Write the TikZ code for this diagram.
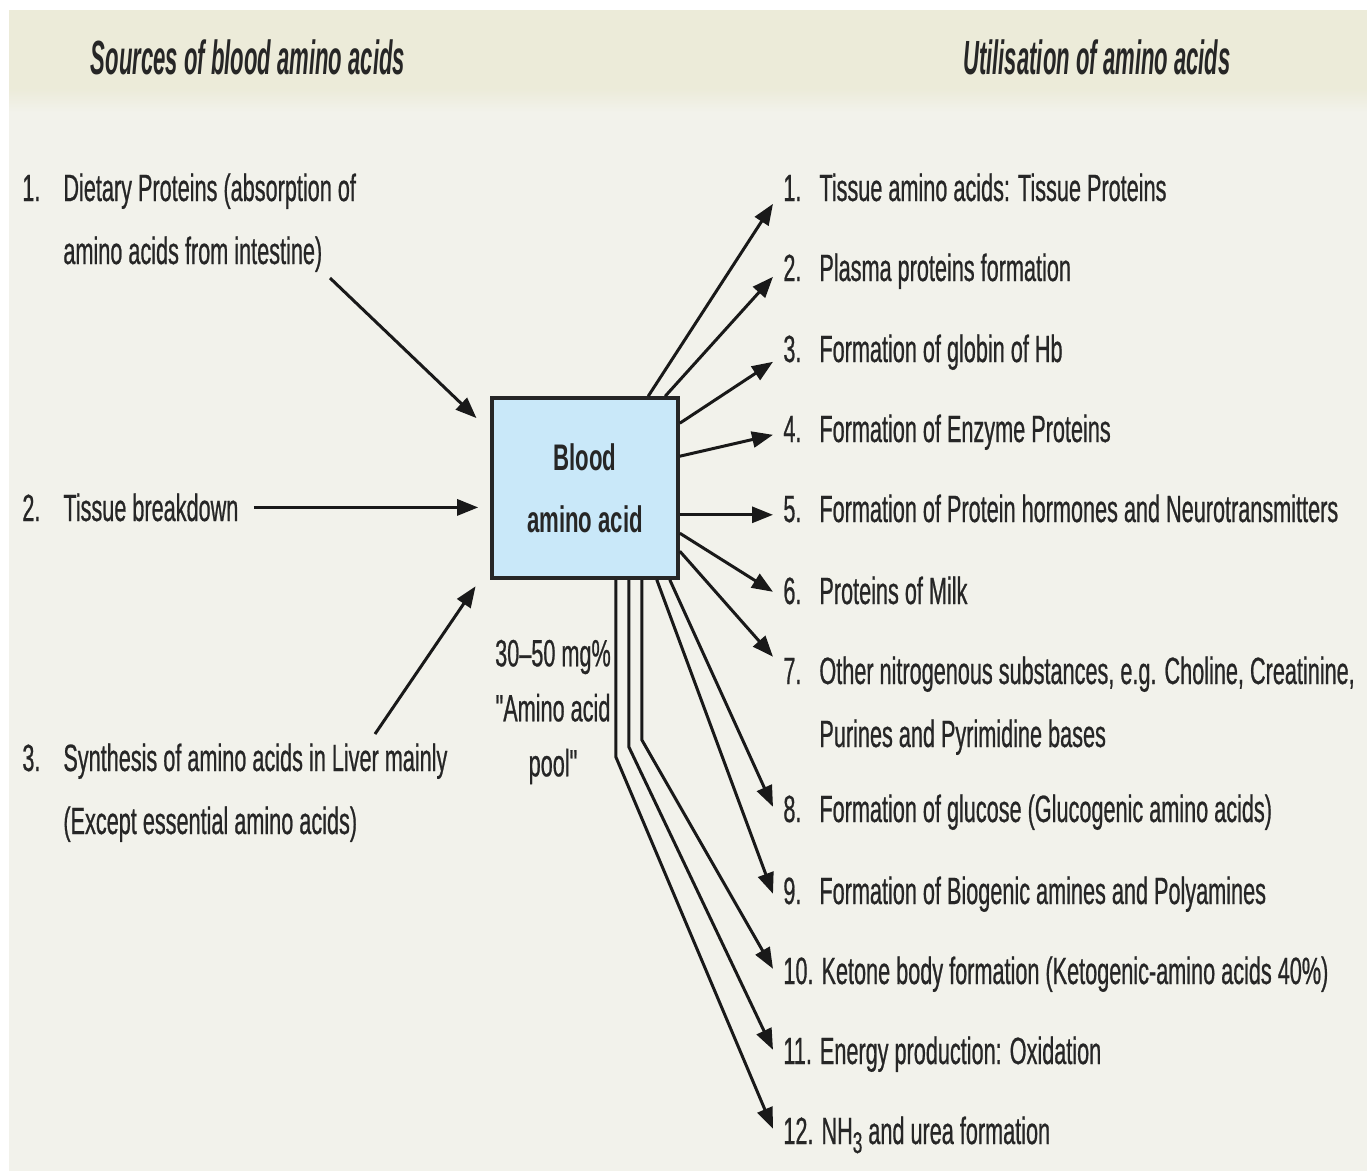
\documentclass[tikz,border=0pt]{standalone}
\usepackage{fontspec}
\setmainfont[FakeStretch=0.57,FakeBold=0.6]{Liberation Sans}
\newfontfamily\headfont[FakeStretch=0.46]{Liberation Sans}
\newfontfamily\boxfont[FakeStretch=0.6]{Liberation Sans}
\usetikzlibrary{arrows.meta,positioning,calc}
\definecolor{PageBg}{RGB}{242,242,235}
\definecolor{HeadBand}{RGB}{236,235,217}
\definecolor{PoolBlue}{RGB}{201,232,249}
\definecolor{InkGrey}{RGB}{38,38,38}

\begin{document}
\begin{tikzpicture}[x=0.5pt,y=-0.5pt,>={Triangle[length=10.5pt,width=8pt]},every node/.style={text=InkGrey,font=\fontsize{19}{31.5}\selectfont}]
\tikzset{item/.style={anchor=base west,inner sep=0pt,align=left},num/.style={anchor=base west,inner xsep=5pt,inner ysep=0pt,text height=0.72em,text depth=0pt},arr/.style={->,line width=1.5pt,draw=black!90},headtext/.style={font=\headfont\fontsize{24}{28}\selectfont\bfseries\itshape}}
% page and heading band
\useasboundingbox (0,0) rectangle (1367,1175);
\fill[white] (0,0) rectangle (1367,1175);
\fill[PageBg] (9,10) rectangle (1367,1171);
\fill[HeadBand] (9,10) rectangle (1367,88);
\shade[top color=HeadBand,bottom color=PageBg] (9,88) rectangle (1367,112);
\node[headtext] (srchead) at (248,57) {Sources of blood amino acids};
\node[headtext] (usehead) at (1097,57) {Utilisation of amino acids};
% central pool
\node[draw=black!85,line width=1.8pt,fill=PoolBlue,minimum width=93pt,minimum height=90pt,align=center,font=\boxfont\fontsize{18.5}{31}\selectfont\bfseries] (pool) at (585,488) {Blood\\amino acid};
\node[align=center,font=\fontsize{19}{27.5}\selectfont\addfontfeatures{Ligatures=TeXOff}] (poolnote) at (553,712) {30–50 mg\%\\"Amino acid\\pool"};
% sources (multi-line nodes sit on their last baseline)
\node[item] (n1) at (22,201) {1.};
\node[item] (l1) at (63,264) {Dietary Proteins (absorption of\\amino acids from intestine)};
\node[item] (n2) at (22,521) {2.};
\node[item,inner xsep=7.5pt] (l2) at (48,521) {Tissue breakdown};
\node[item] (n3) at (22,771) {3.};
\node[item] (l3) at (63,834) {Synthesis of amino acids in Liver mainly\\(Except essential amino acids)};
\coordinate (s1) at (330,278);
\coordinate (s3) at (375,734);
% utilisation
\node[num] (r1) at (773,201) {1.};
\node[item] (t1) at (819,201) {Tissue amino acids: Tissue Proteins};
\node[num] (r2) at (773,281) {2.};
\node[item] (t2) at (819,281) {Plasma proteins formation};
\node[num] (r3) at (773,362) {3.};
\node[item] (t3) at (819,362) {Formation of globin of Hb};
\node[num] (r4) at (773,442) {4.};
\node[item] (t4) at (819,442) {Formation of Enzyme Proteins};
\node[num] (r5) at (773,522) {5.};
\node[item] (t5) at (819,522) {Formation of Protein hormones and Neurotransmitters};
\node[num] (r6) at (773,604) {6.};
\node[item] (t6) at (819,604) {Proteins of Milk};
\node[num] (r7) at (773,684) {7.};
\node[item] (t7) at (819,747) {Other nitrogenous substances, e.g. Choline, Creatinine,\\Purines and Pyrimidine bases};
\node[num] (r8) at (773,822) {8.};
\node[item] (t8) at (819,822) {Formation of glucose (Glucogenic amino acids)};
\node[num] (r9) at (773,904) {9.};
\node[item] (t9) at (819,904) {Formation of Biogenic amines and Polyamines};
\node[num] (r10) at (773,984) {10. Ketone body formation (Ketogenic-amino acids 40\%)};
\node[num] (r11) at (773,1064) {11. Energy production: Oxidation};
\node[num] (r12) at (773,1144) {12. NH\raisebox{-0.45ex}{\fontsize{15}{15}\selectfont 3} and urea formation};
% arrows into the pool
\draw[arr,shorten >=9.5pt] (s1) -- ($(pool.north west)+(0,35)$);
\draw[arr,shorten >=6pt] (l2.east) -- (l2.east -| pool.west);
\draw[arr,shorten >=13pt] (s3) -- ($(pool.south west)+(0,-15)$);
% arrows out of the pool
\draw[arr] ($(pool.north west)+(158,0)$) -- ($(r1.west)+(0,10)$);
\draw[arr] ($(pool.north west)+(175,0)$) -- ($(r2.west)+(0,3)$);
\draw[arr] ($(pool.north east)+(0,27)$) -- ($(r3.west)+(0,7)$);
\draw[arr] ($(pool.north east)+(0,60)$) -- (r4.west);
\draw[arr] (r5.west -| pool.east) -- (r5.west);
\draw[arr] ($(pool.north east)+(0,137)$) -- ($(r6.west)+(0,-5)$);
\draw[arr] ($(pool.north east)+(0,155)$) -- ($(r7.west)+(0,-20)$);
\draw[arr] ($(pool.south east)+(-10,0)$) -- ($(r8.west)+(0,-8)$);
\draw[arr] ($(pool.south east)+(-23,0)$) -- ($(r9.west)+(0,-3)$);
\draw[arr] ($(pool.south east)+(-38,0)$) -- ++(0,160) -- ($(r10.west)+(0,-8)$);
\draw[arr] ($(pool.south east)+(-51,0)$) -- ++(0,167) -- ($(r11.west)+(0,-7)$);
\draw[arr] ($(pool.south east)+(-64,0)$) -- ++(0,177) -- ($(r12.west)+(0,-8)$);
\end{tikzpicture}
\end{document}
